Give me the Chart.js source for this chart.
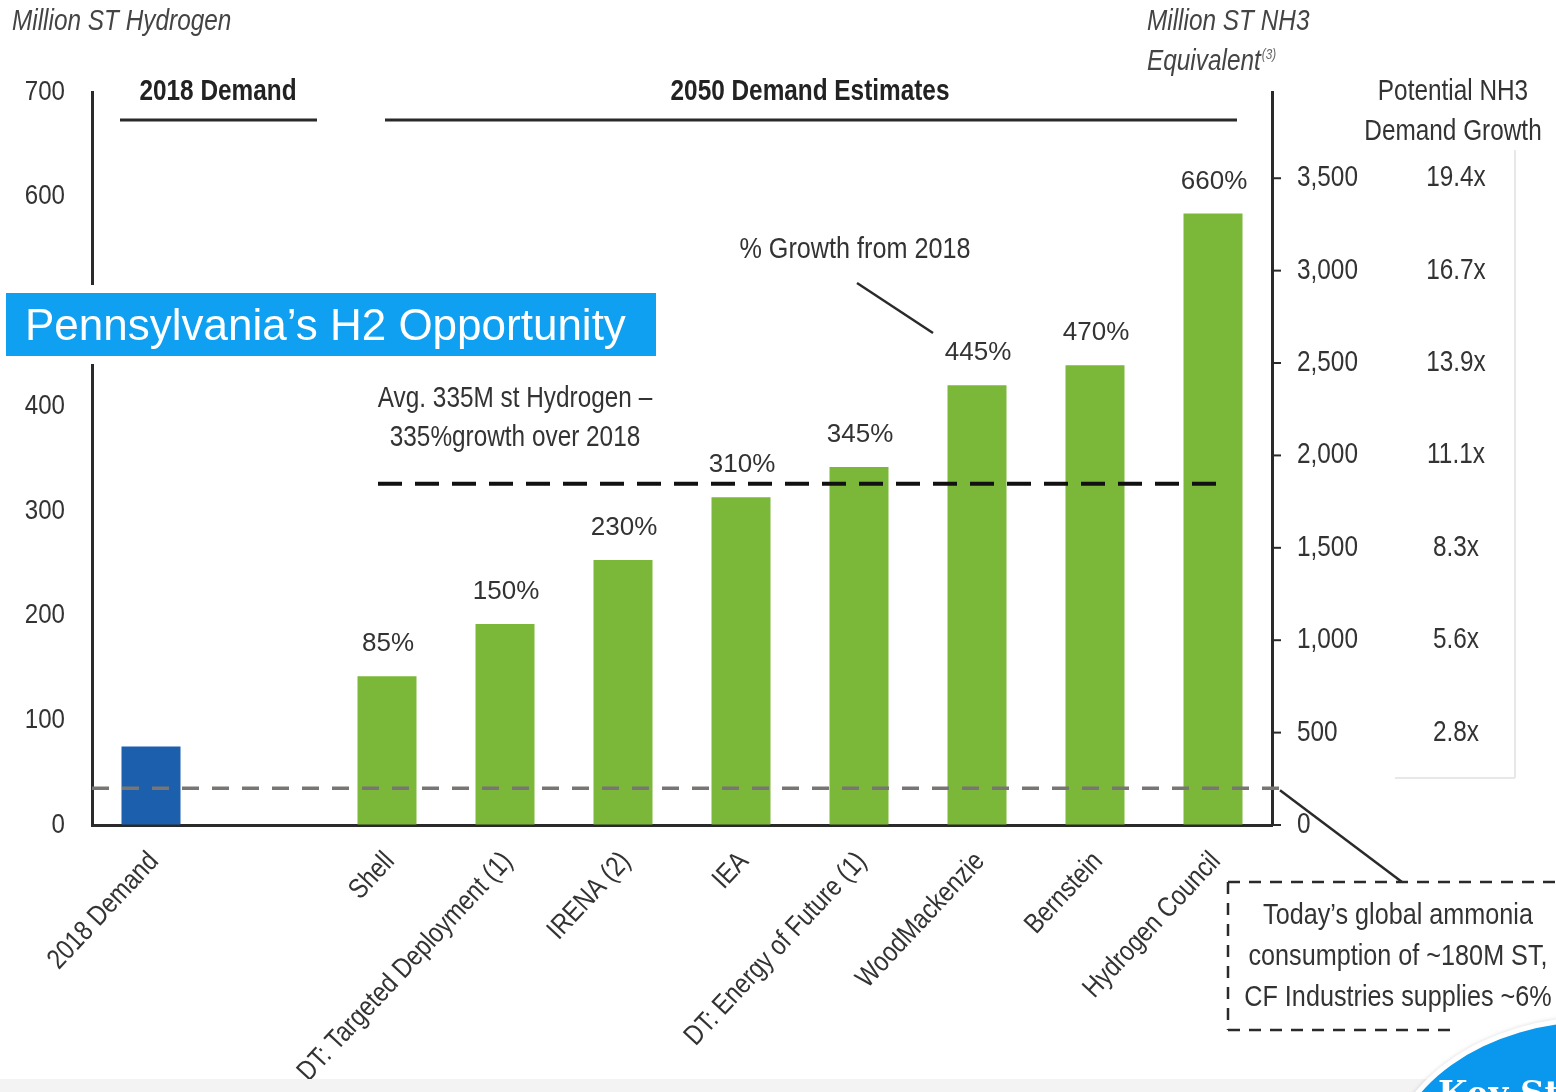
<!DOCTYPE html>
<html>
<head>
<meta charset="utf-8">
<title>Pennsylvania's H2 Opportunity</title>
<script src="https://cdn.jsdelivr.net/npm/chart.js@4.4.1/dist/chart.umd.min.js"></script>
<style>
  body { margin: 0; background: #fff; width: 1556px; height: 1092px; overflow: hidden; position: relative; }
  #chart { position: absolute; left: 0; top: 0; }
  .banner {
    position: absolute; left: 6px; top: 293px; width: 650px; height: 63px;
    background: #0fa0f2; color: #fff; box-shadow: 0 0 0 8px #fff;
    font-family: 'Liberation Sans', Arial, sans-serif; font-size: 44px;
    line-height: 64px; padding-left: 19px; box-sizing: border-box; white-space: nowrap;
  }
  .strip { position: absolute; left: 0; top: 1079px; width: 1556px; height: 13px; background: #f3f3f3; }
  .badge {
    position: absolute; left: 1385px; top: 1016px; width: 420px; height: 300px;
    border-radius: 50%; background: #0a98ef; border: 5px solid #fff;
    box-shadow: 0 0 4px rgba(0,0,0,0.15); overflow: hidden;
  }
  .badge span {
    position: absolute; left: 48px; top: 52px; color: #fff;
    font-family: 'DejaVu Serif', 'Liberation Serif', serif; font-weight: bold; font-size: 34px; white-space: nowrap;
  }
</style>
</head>
<body>
<canvas id="chart" width="1556" height="1092"></canvas>
<div class="banner">Pennsylvania’s H2 Opportunity</div>
<div class="strip"></div>
<div class="badge"><span>Key Stats</span></div>
<script>
// values, million short tons of hydrogen
const categories = ['2018 Demand', '', 'Shell', 'DT: Targeted Deployment (1)', 'IRENA (2)', 'IEA',
  'DT: Energy of Future (1)', 'WoodMackenzie', 'Bernstein', 'Hydrogen Council'];
const demand = [75, null, 142, 192, 253, 313, 342, 420, 439, 584];
const growthLabels = ['', '', '85%', '150%', '230%', '310%', '345%', '445%', '470%', '660%'];

const avgLine = 326;     // avg. 2050 estimate (dashed black)
const todayLine = 35;    // today's ammonia consumption in H2 terms (dashed grey)

// right hand axis: NH3 equivalent, and potential demand growth per tick
const nh3PerH2 = 17 / 3;
const nh3Ticks = [0, 500, 1000, 1500, 2000, 2500, 3000, 3500];
const nh3Growth = ['', '2.8x', '5.6x', '8.3x', '11.1x', '13.9x', '16.7x', '19.4x'];

const blue = '#1c60ad';
const green = '#7bb83a';
const ink = '#2a2a2a';
const sans = "'Liberation Sans', Arial, sans-serif";

Chart.defaults.font.family = sans;
Chart.defaults.color = ink;

// no narrow font installed, so squeeze Liberation Sans sideways like Arial Narrow
function drawText(ctx, str, px, py, opts) {
  const o = Object.assign({ size: 28, weight: '', style: '', align: 'center', squeeze: 0.84, rotate: 0, color: '#333' }, opts);
  ctx.save();
  ctx.translate(px, py);
  if (o.rotate) ctx.rotate(o.rotate);
  ctx.scale(o.squeeze, 1);
  ctx.font = `${o.style} ${o.weight} ${o.size}px ${sans}`;
  ctx.fillStyle = o.color;
  ctx.textAlign = o.align;
  ctx.textBaseline = 'middle';
  ctx.fillText(str, 0, 0);
  const w = ctx.measureText(str).width * o.squeeze;
  ctx.restore();
  return w;
}

function drawLine(ctx, x1, y1, x2, y2, w, dash, color) {
  ctx.save();
  ctx.beginPath();
  ctx.lineWidth = w;
  ctx.strokeStyle = color || ink;
  ctx.setLineDash(dash || []);
  ctx.moveTo(x1, y1);
  ctx.lineTo(x2, y2);
  ctx.stroke();
  ctx.restore();
}

const annotations = {
  id: 'annotations',
  afterDraw(chart) {
    const { ctx, chartArea, scales: { x, y, y1 } } = chart;

    // axis tick labels
    y.ticks.forEach((t, i) => {
      drawText(ctx, String(t.value), 65, y.getPixelForTick(i), { size: 28, align: 'right', squeeze: 0.86 });
    });
    y1.ticks.forEach((t, i) => {
      const py = y1.getPixelForTick(i);
      drawLine(ctx, chartArea.right, py, chartArea.right + 9, py, 2);
      drawText(ctx, t.value.toLocaleString('en-US'), 1297, py, { size: 29, align: 'left' });
      if (nh3Growth[i]) drawText(ctx, nh3Growth[i], 1456, py, { size: 29 });
    });
    categories.forEach((c, i) => {
      if (!c) return;
      drawText(ctx, c, x.getPixelForValue(i) + 3, 857, { size: 28, align: 'right', rotate: -47 * Math.PI / 180 });
    });

    // growth % above bars
    growthLabels.forEach((lbl, i) => {
      if (!lbl) return;
      drawText(ctx, lbl, x.getPixelForValue(i) + 1, y.getPixelForValue(demand[i]) - 32, { size: 26, squeeze: 1 });
    });

    // axis titles
    drawText(ctx, 'Million ST Hydrogen', 12, 22, { size: 29, style: 'italic', align: 'left', color: '#444' });
    drawText(ctx, 'Million ST NH3', 1147, 22, { size: 29, style: 'italic', align: 'left', color: '#444' });
    const eqW = drawText(ctx, 'Equivalent', 1147, 62, { size: 29, style: 'italic', align: 'left', color: '#444' });
    drawText(ctx, '(3)', 1147 + eqW + 1, 55, { size: 14, style: 'italic', align: 'left', color: '#666' });

    // section headers
    drawText(ctx, '2018 Demand', 218, 92, { size: 29, weight: 'bold', color: '#222' });
    drawLine(ctx, 120, 120, 317, 120, 3);
    drawText(ctx, '2050 Demand Estimates', 810, 92, { size: 29, weight: 'bold', color: '#222' });
    drawLine(ctx, 385, 120, 1237, 120, 3);

    // NH3 growth column
    drawText(ctx, 'Potential NH3', 1453, 92, { size: 29 });
    drawText(ctx, 'Demand Growth', 1453, 132, { size: 29 });
    drawLine(ctx, 1515, 150, 1515, 778, 2, null, '#e8e8e8');
    drawLine(ctx, 1395, 778, 1515, 778, 2, null, '#e8e8e8');

    // callouts
    drawText(ctx, '% Growth from 2018', 855, 250, { size: 30 });
    drawLine(ctx, 857, 283, 933, 333, 2.5);
    drawText(ctx, 'Avg. 335M st Hydrogen –', 515, 399, { size: 29 });
    drawText(ctx, '335%growth over 2018', 515, 438, { size: 29 });

    // reference lines
    const ya = y.getPixelForValue(avgLine);
    drawLine(ctx, 378, ya, 1228, ya, 4, [24, 13], '#111');
    const yt = y.getPixelForValue(todayLine);
    drawLine(ctx, chartArea.left, yt, chartArea.right + 10, yt, 3.5, [17, 13], '#7a7575');

    // ammonia note
    drawLine(ctx, chartArea.right + 8, yt + 2, 1402, 882, 2.5);
    drawLine(ctx, 1228, 882, 1556, 882, 2.5, [12, 9]);
    drawLine(ctx, 1228, 882, 1228, 1030, 2.5, [12, 9]);
    drawLine(ctx, 1228, 1030, 1450, 1030, 2.5, [12, 9]);
    drawText(ctx, 'Today’s global ammonia', 1398, 916, { size: 30 });
    drawText(ctx, 'consumption of ~180M ST,', 1398, 957, { size: 30 });
    drawText(ctx, 'CF Industries supplies ~6%', 1398, 998, { size: 30 });
  }
};

new Chart(document.getElementById('chart').getContext('2d'), {
  type: 'bar',
  data: {
    labels: categories,
    datasets: [
      {
        label: 'Million ST Hydrogen',
        data: demand,
        backgroundColor: categories.map((c, i) => (i === 0 ? blue : green)),
        categoryPercentage: 1,
        barPercentage: 0.5,
      },
    ],
  },
  options: {
    responsive: false,
    animation: false,
    layout: { padding: { top: 92, left: 0, right: 0, bottom: 0 } },
    plugins: { legend: { display: false }, tooltip: { enabled: false } },
    scales: {
      x: {
        grid: { display: true, drawOnChartArea: false, drawTicks: false },
        border: { display: true, color: ink, width: 3 },
        ticks: { display: false, autoSkip: false },
        afterFit: (s) => { s.height = 267; },
      },
      y: {
        position: 'left',
        min: 0,
        max: 700,
        grid: { display: true, drawOnChartArea: false, drawTicks: false },
        border: { display: true, color: ink, width: 3 },
        ticks: { display: false, stepSize: 100 },
        afterFit: (s) => { s.width = 92; },
      },
      y1: {
        position: 'right',
        min: 0,
        max: 700 * nh3PerH2,
        grid: { display: true, drawOnChartArea: false, drawTicks: false },
        border: { display: true, color: ink, width: 3 },
        ticks: { display: false },
        afterBuildTicks: (s) => { s.ticks = nh3Ticks.map((v) => ({ value: v })); },
        afterFit: (s) => { s.width = 284; },
      },
    },
  },
  plugins: [annotations],
});
</script>
</body>
</html>
